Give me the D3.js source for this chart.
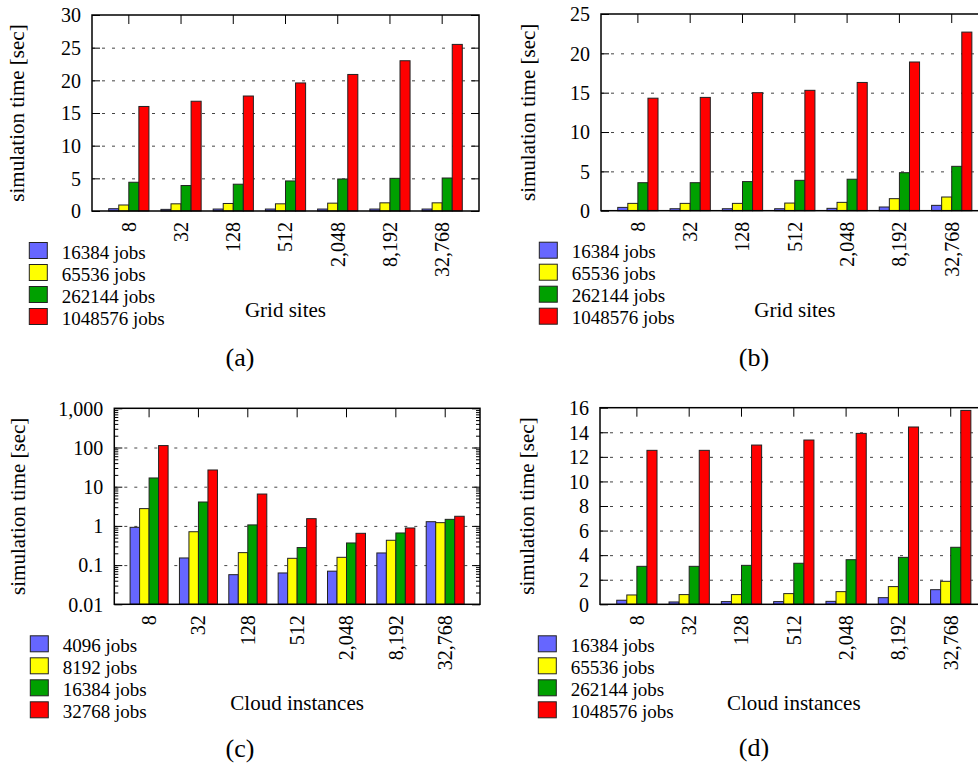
<!DOCTYPE html>
<html>
<head>
<meta charset="utf-8">
<script src="https://cdn.jsdelivr.net/npm/d3@7"></script>
<style>
  body { margin: 0; background: #fff; }
  svg { display: block; }
  svg text { font-family: "Liberation Serif", "Times New Roman", serif; fill: #000; }
  .tick text { font-size: 20px; }
</style>
</head>
<body>
<svg id="chart" width="978" height="767"></svg>
<script>
// x categories (same for all four panels)
const xLabels = ['8', '32', '128', '512', '2,048', '8,192', '32,768']

// series names
const gridJobs = ['16384 jobs', '65536 jobs', '262144 jobs', '1048576 jobs']
const cloudJobsC = ['4096 jobs', '8192 jobs', '16384 jobs', '32768 jobs']
const cloudJobsD = ['16384 jobs', '65536 jobs', '262144 jobs', '1048576 jobs']

// values, one array per series (seconds)
const aValues = [
    [0.35, 0.25, 0.3, 0.3, 0.3, 0.3, 0.3],
    [0.92, 1.1, 1.15, 1.1, 1.2, 1.25, 1.25],
    [4.4, 3.9, 4.1, 4.6, 4.9, 5.0, 5.05],
    [16.0, 16.8, 17.6, 19.6, 20.9, 23.0, 25.5]
]
const bValues = [
    [0.42, 0.25, 0.25, 0.25, 0.3, 0.47, 0.68],
    [0.93, 0.93, 0.93, 0.97, 1.06, 1.53, 1.74],
    [3.56, 3.56, 3.7, 3.86, 4.0, 4.83, 5.64],
    [14.3, 14.4, 15.0, 15.3, 16.3, 18.9, 22.7]
]
const cValues = [
    [0.92, 0.152, 0.057, 0.063, 0.07, 0.204, 1.28],
    [2.76, 0.71, 0.208, 0.149, 0.158, 0.43, 1.21],
    [16.7, 4.07, 1.06, 0.28, 0.367, 0.66, 1.47],
    [112, 26.7, 6.5, 1.53, 0.647, 0.885, 1.76]
]
const dValues = [
    [0.33, 0.19, 0.22, 0.22, 0.24, 0.54, 1.19],
    [0.76, 0.79, 0.79, 0.87, 1.03, 1.44, 1.87],
    [3.09, 3.09, 3.17, 3.34, 3.63, 3.82, 4.64],
    [12.53, 12.53, 12.96, 13.37, 13.91, 14.43, 15.78]
]

// y tick labels
const yTicksA = [0, 5, 10, 15, 20, 25, 30]
const yTicksB = [0, 5, 10, 15, 20, 25]
const yTicksC = [0.01, 0.1, 1, 10, 100, 1000]
const yTickLabelsC = ['0.01', '0.1', '1', '10', '100', '1,000']
const yTicksD = [0, 2, 4, 6, 8, 10, 12, 14, 16]

const COLORS = ['#6666ff', '#ffff00', '#00a000', '#ff0000']
const FONT = '"Liberation Serif", "Times New Roman", serif'

const svg = d3.select('#chart')

function drawPanel(p) {
    const w = p.right - p.left
    const h = p.bottom - p.top
    const g = svg.append('g').attr('transform', `translate(${p.left},${p.top})`)

    const x0 = d3.scaleBand()
        .domain(xLabels)
        .range([0, w])
        .paddingInner(0.23)
        .paddingOuter(0.32)
    const x1 = d3.scaleBand()
        .domain(d3.range(p.values.length))
        .range([0, x0.bandwidth()])

    const y = p.log
        ? d3.scaleLog().domain([0.01, 1000]).range([h, 0])
        : d3.scaleLinear().domain([0, d3.max(p.yTicks)]).range([h, 0])

    // dashed grid
    const gridVals = p.yTicks.slice(1, -1)
    g.append('g')
        .attr('class', 'grid')
        .call(d3.axisLeft(y).tickValues(gridVals).tickSize(-w).tickFormat(''))
        .call(s => s.select('.domain').remove())
        .selectAll('line')
        .attr('stroke', '#444')
        .attr('stroke-width', 1)
        .attr('stroke-dasharray', '3,7')

    // bars
    const rows = xLabels.map((c, i) => ({ cat: c, vals: p.values.map(s => s[i]) }))
    g.append('g')
        .selectAll('g')
        .data(rows)
        .join('g')
        .attr('transform', d => `translate(${x0(d.cat)},0)`)
        .selectAll('rect')
        .data(d => d.vals.map((v, k) => ({ k, v })))
        .join('rect')
        .attr('x', d => x1(d.k))
        .attr('width', x1.bandwidth())
        .attr('y', d => y(d.v))
        .attr('height', d => h - y(d.v))
        .attr('fill', d => COLORS[d.k])
        .attr('stroke', '#222')
        .attr('stroke-width', 1)

    // ticks: left (labelled), right mirror, top mirror
    const fmt = p.log ? d => yTickLabelsC[yTicksC.indexOf(d)] : d3.format('d')
    const left = g.append('g')
        .call(d3.axisLeft(y).tickValues(p.yTicks).tickSizeInner(-8).tickSizeOuter(0).tickPadding(11).tickFormat(fmt))
    left.select('.domain').remove()
    left.selectAll('text').attr('dy', '0.34em')

    const right = g.append('g')
        .attr('transform', `translate(${w},0)`)
        .call(d3.axisRight(y).tickValues(p.yTicks).tickSizeInner(-8).tickSizeOuter(0).tickFormat(''))
    right.select('.domain').remove()

    if (p.log) {
        const minor = y.ticks().filter(v => yTicksC.indexOf(v) < 0)
        g.append('g')
            .call(d3.axisLeft(y).tickValues(minor).tickSizeInner(-4).tickSizeOuter(0).tickFormat(''))
            .call(s => s.select('.domain').remove())
        g.append('g')
            .attr('transform', `translate(${w},0)`)
            .call(d3.axisRight(y).tickValues(minor).tickSizeInner(-4).tickSizeOuter(0).tickFormat(''))
            .call(s => s.select('.domain').remove())
    }

    const top = g.append('g')
        .call(d3.axisTop(x0).tickSizeInner(-9).tickSizeOuter(0).tickFormat(''))
    top.select('.domain').remove()

    // x labels, rotated
    const bottom = g.append('g')
        .attr('transform', `translate(0,${h})`)
        .call(d3.axisBottom(x0).tickSize(0).tickPadding(0))
    bottom.select('.domain').remove()
    bottom.selectAll('text')
        .attr('transform', 'translate(0,11) rotate(-90)')
        .attr('x', 0)
        .attr('y', 0)
        .attr('dy', '0.34em')
        .style('text-anchor', 'end')

    g.selectAll('.tick line').filter(function () { return !this.closest('.grid') })
        .attr('stroke', '#000').attr('stroke-width', 1)
    g.selectAll('g').attr('font-family', FONT).attr('font-size', 20)

    // border
    g.append('rect')
        .attr('width', w)
        .attr('height', h)
        .attr('fill', 'none')
        .attr('stroke', '#000')
        .attr('stroke-width', 1.5)

    // y title
    svg.append('text')
        .attr('transform', `translate(${p.yTitleX},${p.top + h / 2}) rotate(-90)`)
        .attr('text-anchor', 'middle')
        .attr('dy', '0.34em')
        .attr('font-size', 21)
        .text('simulation time [sec]')

    // x title
    svg.append('text')
        .attr('x', p.left + w / 2)
        .attr('y', p.xTitleY)
        .attr('text-anchor', 'middle')
        .attr('font-size', 21)
        .text(p.xTitle)

    // legend
    const lg = svg.append('g').attr('transform', `translate(${p.legendX},${p.bottom + 31.5})`)
    p.names.forEach((n, k) => {
        lg.append('rect')
            .attr('x', 0)
            .attr('y', k * 22)
            .attr('width', 18)
            .attr('height', 16)
            .attr('fill', COLORS[k])
            .attr('stroke', '#222')
            .attr('stroke-width', 1)
        lg.append('text')
            .attr('x', 32.5)
            .attr('y', k * 22 + 16)
            .attr('font-size', 19)
            .text(n)
    })

    // caption
    svg.append('text')
        .attr('x', p.capX)
        .attr('y', p.capY)
        .attr('text-anchor', 'middle')
        .attr('font-size', 26)
        .text(p.caption)
}

drawPanel({ left: 92, top: 15, right: 479, bottom: 211, values: aValues, yTicks: yTicksA, names: gridJobs,
    xTitle: 'Grid sites', xTitleY: 317, yTitleX: 17, legendX: 29.3, caption: '(a)', capX: 240, capY: 366 })
drawPanel({ left: 601, top: 14, right: 988.6, bottom: 210.7, values: bValues, yTicks: yTicksB, names: gridJobs,
    xTitle: 'Grid sites', xTitleY: 317, yTitleX: 527.5, legendX: 539.3, caption: '(b)', capX: 754, capY: 366 })
drawPanel({ left: 114.3, top: 408.3, right: 480, bottom: 604.3, values: cValues, yTicks: yTicksC, names: cloudJobsC,
    log: true, xTitle: 'Cloud instances', xTitleY: 710, yTitleX: 17.7, legendX: 30.3, caption: '(c)', capX: 240, capY: 757 })
drawPanel({ left: 600, top: 407.7, right: 987.6, bottom: 604.3, values: dValues, yTicks: yTicksD, names: cloudJobsD,
    xTitle: 'Cloud instances', xTitleY: 710, yTitleX: 526.7, legendX: 538.3, caption: '(d)', capX: 754, capY: 756 })
</script>
</body>
</html>
